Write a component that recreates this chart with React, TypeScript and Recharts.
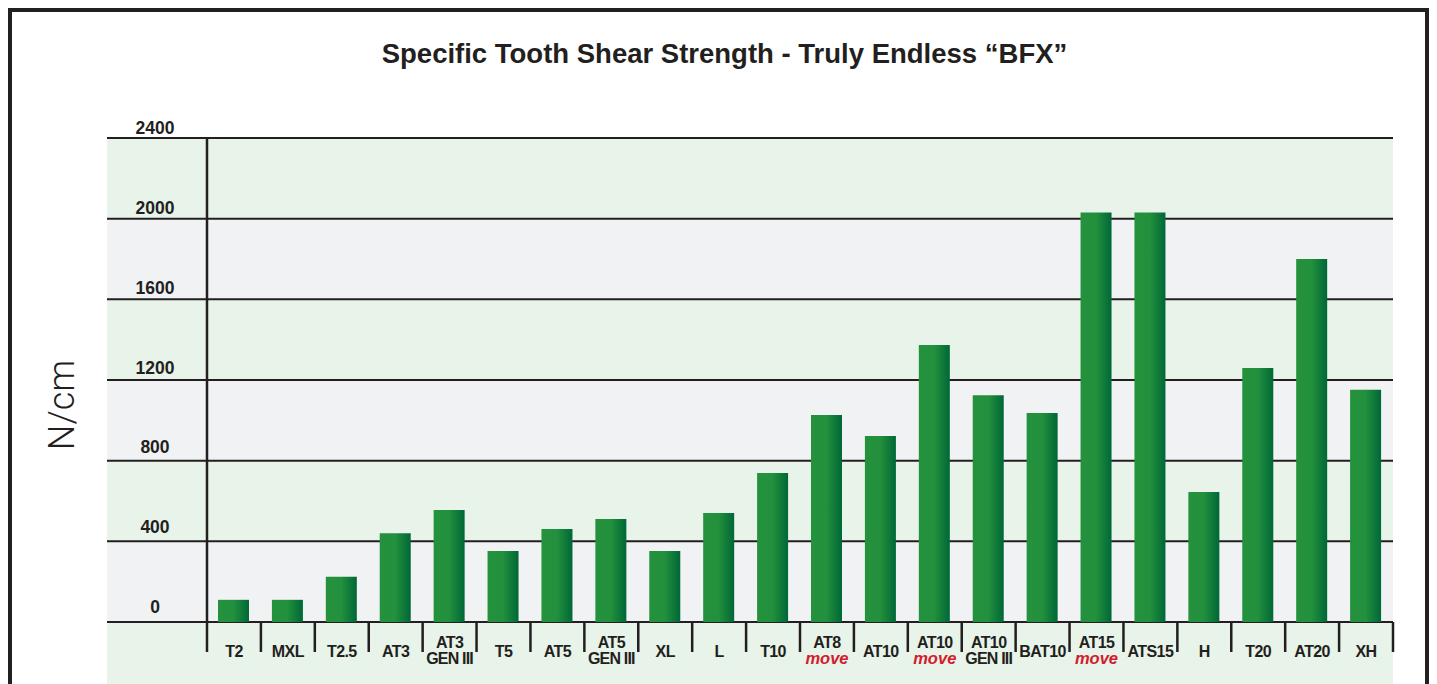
import React from 'react';
import { BarChart, Bar, XAxis, YAxis, ReferenceArea } from 'recharts';

const line1 = ['T2', 'MXL', 'T2.5', 'AT3', 'AT3', 'T5', 'AT5', 'AT5', 'XL', 'L', 'T10', 'AT8', 'AT10', 'AT10', 'AT10', 'BAT10', 'AT15', 'ATS15', 'H', 'T20', 'AT20', 'XH'];
const line2 = ['', '', '', '', 'GEN III', '', '', 'GEN III', '', '', '', 'move', '', 'move', 'GEN III', '', 'move', '', '', '', '', ''];
const values = [110, 110, 225, 440, 555, 352, 461, 511, 352, 540, 739, 1026, 922, 1373, 1125, 1036, 2030, 2030, 645, 1260, 1800, 1152];
const yTicks = [0, 400, 800, 1200, 1600, 2000, 2400];
const bands = [
  { y1: 2000, y2: 2400, tone: 'g' },
  { y1: 1600, y2: 2000, tone: 'w' },
  { y1: 1200, y2: 1600, tone: 'g' },
  { y1: 800, y2: 1200, tone: 'w' },
  { y1: 400, y2: 800, tone: 'g' },
  { y1: 0, y2: 400, tone: 'w' },
  { y1: -330, y2: 0, tone: 'g' },
];

const data = line1.map((n, i) => ({ id: `${n} ${line2[i]} ${i}`, value: values[i] }));

const INK = '#231f20';
const FONT = '"Liberation Sans", Arial, Helvetica, sans-serif';
const GREEN_BAND = '#e8f3e9';
const GRAY_BAND = '#f1f2f4';
const LEFT_EXT = 100;

const CHART_W = 1437;
const MARGIN = { top: 138, right: 44, bottom: 0, left: 107 };
const Y_AXIS_W = 100;
const PLOT_W = CHART_W - MARGIN.left - MARGIN.right - Y_AXIS_W;
const BAND_W = PLOT_W / line1.length;
const TICK_LEN = 30;

const bandShape = (fill: string) => (p: any) => (
  <g>
    <rect x={p.x - LEFT_EXT} y={p.y} width={p.width + LEFT_EXT} height={p.height} fill={fill} />
    <line x1={p.x - LEFT_EXT} x2={p.x + p.width} y1={p.y} y2={p.y} stroke={INK} strokeWidth={2} />
  </g>
);

const YTick = (p: any) => {
  const v = Number(p.payload.value);
  const lift = 4 + ((2400 - v) / 2400) * 5;
  return (
    <text x={155} y={p.y - lift} textAnchor="middle" fontFamily={FONT} fontWeight="bold" fontSize={17.5} fill={INK}>
      {p.payload.value}
    </text>
  );
};

const XTick = (p: any) => {
  const i = p.index;
  const a = line1[i];
  const b = line2[i];
  const common = { textAnchor: 'middle' as const, fontFamily: FONT, fontWeight: 'bold' as const };
  const left = p.x - BAND_W / 2;
  const right = p.x + BAND_W / 2;
  const ticks = (
    <g>
      <line x1={left} x2={left} y1={p.y} y2={p.y + TICK_LEN} stroke={INK} strokeWidth={2.5} />
      {i === line1.length - 1 && (
        <line x1={right} x2={right} y1={p.y} y2={p.y + TICK_LEN} stroke={INK} strokeWidth={2.5} />
      )}
    </g>
  );
  if (!b) {
    return (
      <g>
        {ticks}
        <text x={p.x} y={p.y + 35} fontSize={16} letterSpacing={-0.6} fill={INK} {...common}>{a}</text>
      </g>
    );
  }
  const isMove = b === 'move';
  return (
    <g>
      {ticks}
      <text x={p.x} y={p.y + 26} fontSize={16} letterSpacing={-0.6} fill={INK} {...common}>{a}</text>
      <text
        x={p.x}
        y={p.y + 41.5}
        fontSize={isMove ? 16.5 : 16}
        fill={isMove ? '#d0202e' : INK}
        fontStyle={isMove ? 'italic' : 'normal'}
        letterSpacing={isMove ? 0 : -0.8}
        {...common}
      >
        {b}
      </text>
    </g>
  );
};

export default function App() {
  return (
    <div style={{ position: 'absolute', left: 0, top: 0, width: 1437, height: 684, overflow: 'hidden', background: '#fff' }}>
      <BarChart width={CHART_W} height={684} data={data} margin={MARGIN}>
        <defs>
          <linearGradient id="barGrad" x1="0" y1="0" x2="1" y2="0">
            <stop offset="0%" stopColor="#24913d" />
            <stop offset="50%" stopColor="#22903c" />
            <stop offset="100%" stopColor="#006737" />
          </linearGradient>
        </defs>
        {bands.map((b, i) => (
          <ReferenceArea
            key={i}
            y1={b.y1}
            y2={b.y2}
            ifOverflow="visible"
            shape={bandShape(b.tone === 'g' ? GREEN_BAND : GRAY_BAND)}
          />
        ))}
        <XAxis
          dataKey="id"
          type="category"
          height={62}
          axisLine={false}
          tickLine={false}
          tickSize={0}
          tickMargin={0}
          interval={0}
          tick={XTick}
        />
        <YAxis
          type="number"
          domain={[0, 2400]}
          allowDataOverflow
          ticks={yTicks}
          interval={0}
          width={Y_AXIS_W}
          axisLine={{ stroke: INK, strokeWidth: 2.5 }}
          tickLine={false}
          tick={YTick}
        />
        <Bar dataKey="value" barSize={31} fill="url(#barGrad)" isAnimationActive={false} />
      </BarChart>
      <div
        style={{
          position: 'absolute',
          left: 8,
          top: 8,
          width: 1421,
          height: 720,
          boxSizing: 'border-box',
          border: `4.7px solid ${INK}`,
          pointerEvents: 'none',
        }}
      />
      <div
        style={{
          position: 'absolute',
          left: 0,
          top: 39.7,
          width: 1449,
          textAlign: 'center',
          fontFamily: FONT,
          fontWeight: 'bold',
          fontSize: 27.5,
          lineHeight: '27.5px',
          color: INK,
          whiteSpace: 'nowrap',
        }}
      >
        Specific Tooth Shear Strength - Truly Endless “BFX”
      </div>
      <svg style={{ position: 'absolute', left: 0, top: 0, pointerEvents: 'none' }} width={140} height={684}>
        <text
          transform="translate(74,405) rotate(-90)"
          textAnchor="middle"
          fontFamily='Roboto, "Liberation Sans", sans-serif'
          fontWeight={300}
          fontSize={36}
          fill={INK}
        >
          N/cm
        </text>
      </svg>
    </div>
  );
}
